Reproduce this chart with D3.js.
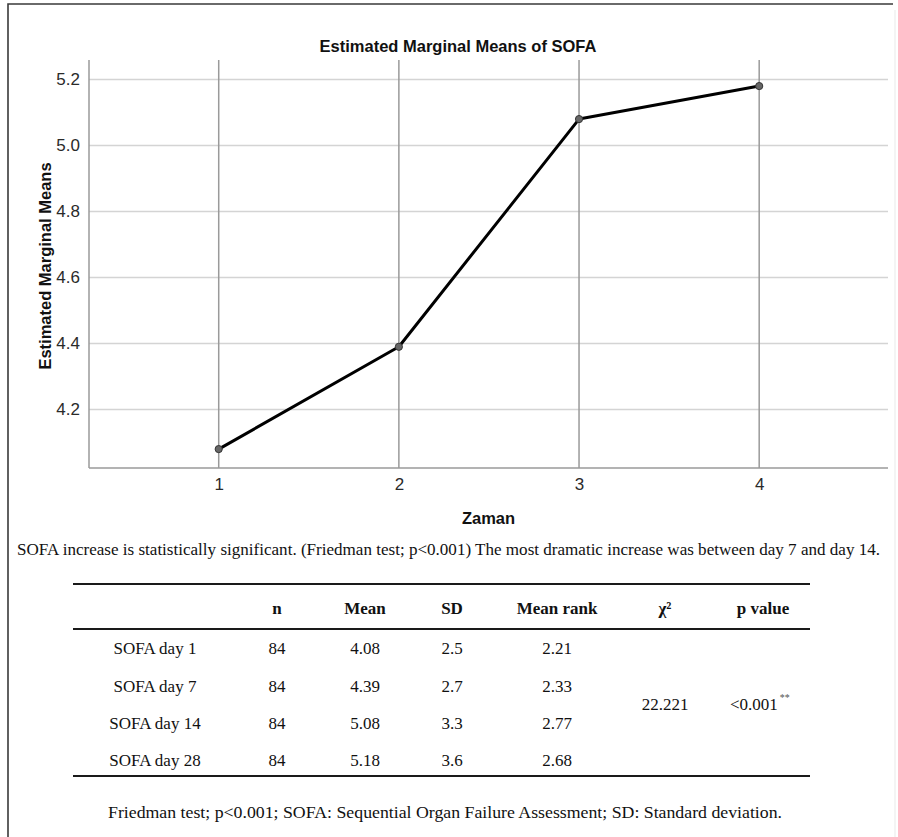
<!DOCTYPE html>
<html>
<head>
<meta charset="utf-8">
<script src="https://cdn.jsdelivr.net/npm/d3@7/dist/d3.min.js"></script>
<style>
  html, body { margin: 0; padding: 0; background: #fff; }
  svg { display: block; }
</style>
</head>
<body>
<svg id="chart" width="898" height="837"></svg>
<script>
(function(){
'use strict';
/* globals d3 */

// chart data
var timePoints = [1, 2, 3, 4];
var sofaMeans = [4.08, 4.39, 5.08, 5.18];
var yTicks = [4.2, 4.4, 4.6, 4.8, 5.0, 5.2];

// table data
var tableHeaders = ['', 'n', 'Mean', 'SD', 'Mean rank', 'χ²', 'p value'];
var rowLabels = ['SOFA day 1', 'SOFA day 7', 'SOFA day 14', 'SOFA day 28'];
var nValues = [84, 84, 84, 84];
var sdValues = [2.5, 2.7, 3.3, 3.6];
var meanRanks = [2.21, 2.33, 2.77, 2.68];
var chiSquare = '22.221';
var pValue = '<0.001';

var captionText = 'SOFA increase is statistically significant. (Friedman test; p<0.001) ' +
    'The most dramatic increase was between day 7 and day 14.';
var footerText = 'Friedman test; p<0.001; SOFA: Sequential Organ Failure Assessment; ' +
    'SD: Standard deviation.';

var SANS = 'Liberation Sans, Arial, sans-serif';
var SERIF = 'Liberation Serif, Times New Roman, serif';

var svg = d3.select('#chart');

// outer frame (left + top edges only, like the cropped figure)
svg.append('path')
    .attr('d', 'M8,837 L8,4 L893,4')
    .attr('fill', 'none')
    .attr('stroke', '#3a3a3a')
    .attr('stroke-width', 1.6);
svg.append('line')
    .attr('x1', 895).attr('x2', 895).attr('y1', 10).attr('y2', 837)
    .attr('stroke', '#f0f0f0').attr('stroke-width', 1.5);

// ---- plot area ----
var plot = {left: 89, right: 888, top: 60, bottom: 468};

var x = d3.scaleLinear()
    .domain([0.28, 4.715])
    .range([plot.left, plot.right]);

var y = d3.scaleLinear()
    .domain([4.0227, 5.259])
    .range([plot.bottom, plot.top]);

// horizontal gridlines
svg.append('g')
    .selectAll('line')
    .data(yTicks)
    .join('line')
    .attr('x1', plot.left).attr('x2', plot.right)
    .attr('y1', function(d){ return y(d); })
    .attr('y2', function(d){ return y(d); })
    .attr('stroke', '#d4d4d4')
    .attr('stroke-width', 1.5);

// vertical reference lines at each time point
svg.append('g')
    .selectAll('line')
    .data(timePoints)
    .join('line')
    .attr('x1', function(d){ return x(d); })
    .attr('x2', function(d){ return x(d); })
    .attr('y1', plot.top).attr('y2', plot.bottom)
    .attr('stroke', '#9a9a9a')
    .attr('stroke-width', 1.5);

// axes
var yAxis = svg.append('g')
    .attr('transform', 'translate(' + plot.left + ',0)')
    .call(d3.axisLeft(y).tickValues(yTicks).tickFormat(d3.format('.1f'))
        .tickSize(0).tickPadding(9));
var xAxis = svg.append('g')
    .attr('transform', 'translate(0,' + plot.bottom + ')')
    .call(d3.axisBottom(x).tickValues(timePoints).tickFormat(d3.format('d'))
        .tickSize(0).tickPadding(10));

[yAxis, xAxis].forEach(function(ax){
    ax.attr('font-size', null).attr('font-family', null);
    ax.select('.domain')
        .attr('stroke', '#9a9a9a')
        .attr('stroke-width', 1.5);
    ax.selectAll('text')
        .style('font-family', SANS)
        .style('font-size', '17px')
        .attr('fill', '#2a2a2a');
});
// the y axis line runs the full plot height
yAxis.select('.domain').attr('d', 'M0,' + plot.top + 'V' + plot.bottom);
xAxis.select('.domain').attr('d', 'M' + plot.left + ',0H' + plot.right);

// mean line
var line = d3.line()
    .x(function(d, i){ return x(timePoints[i]); })
    .y(function(d){ return y(d); });

svg.append('path')
    .datum(sofaMeans)
    .attr('d', line)
    .attr('fill', 'none')
    .attr('stroke', '#000')
    .attr('stroke-width', 3)
    .attr('stroke-linejoin', 'round');

svg.append('g')
    .selectAll('circle')
    .data(sofaMeans)
    .join('circle')
    .attr('cx', function(d, i){ return x(timePoints[i]); })
    .attr('cy', function(d){ return y(d); })
    .attr('r', 3.6)
    .attr('fill', '#666')
    .attr('stroke', '#333')
    .attr('stroke-width', 1);

// titles
svg.append('text')
    .attr('x', 458).attr('y', 52)
    .attr('text-anchor', 'middle')
    .attr('font-family', SANS)
    .attr('font-size', 16.5)
    .attr('font-weight', 'bold')
    .attr('fill', '#111')
    .text('Estimated Marginal Means of SOFA');

svg.append('text')
    .attr('transform', 'translate(51,266) rotate(-90)')
    .attr('text-anchor', 'middle')
    .attr('font-family', SANS)
    .attr('font-size', 16.5)
    .attr('font-weight', 'bold')
    .attr('fill', '#111')
    .text('Estimated Marginal Means');

svg.append('text')
    .attr('x', (plot.left + plot.right) / 2).attr('y', 524)
    .attr('text-anchor', 'middle')
    .attr('font-family', SANS)
    .attr('font-size', 16.5)
    .attr('font-weight', 'bold')
    .attr('fill', '#111')
    .text('Zaman');

// caption below the chart
svg.append('text')
    .attr('x', 17).attr('y', 555)
    .attr('font-family', SERIF)
    .attr('font-size', 17)
    .attr('fill', '#111')
    .attr('textLength', 863)
    .attr('lengthAdjust', 'spacingAndGlyphs')
    .text(captionText);

// ---- table ----
var colX = [155, 277, 365, 452, 557, 665, 763];
var headerY = 608;
var rowY = [648, 686, 723, 760];
var rules = [584, 629, 776];

svg.append('g')
    .selectAll('line')
    .data(rules)
    .join('line')
    .attr('x1', 73).attr('x2', 810)
    .attr('y1', function(d){ return d; })
    .attr('y2', function(d){ return d; })
    .attr('stroke', '#1a1a1a')
    .attr('stroke-width', 2.2);

svg.append('g')
    .selectAll('text')
    .data(tableHeaders)
    .join('text')
    .attr('x', function(d, i){ return colX[i]; })
    .attr('y', headerY)
    .attr('dy', '0.35em')
    .attr('text-anchor', 'middle')
    .attr('font-family', SERIF)
    .attr('font-size', 17)
    .attr('font-weight', 'bold')
    .attr('fill', '#111')
    .text(function(d){ return d; });

var rows = rowLabels.map(function(label, i){
    return [label, nValues[i], sofaMeans[i].toFixed(2), sdValues[i].toFixed(1),
        meanRanks[i].toFixed(2)];
});

svg.append('g')
    .selectAll('g')
    .data(rows)
    .join('g')
    .each(function(row, r){
        d3.select(this).selectAll('text')
            .data(row)
            .join('text')
            .attr('x', function(d, i){ return colX[i]; })
            .attr('y', rowY[r])
            .attr('dy', '0.35em')
            .attr('text-anchor', 'middle')
            .attr('font-family', SERIF)
            .attr('font-size', 17)
            .attr('fill', '#111')
            .text(function(d){ return d; });
    });

// merged cells: chi-square and p value
var mergedY = (rowY[0] + rowY[3]) / 2;
svg.append('text')
    .attr('x', colX[5]).attr('y', mergedY)
    .attr('dy', '0.35em')
    .attr('text-anchor', 'middle')
    .attr('font-family', SERIF)
    .attr('font-size', 17)
    .attr('fill', '#111')
    .text(chiSquare);

var pText = svg.append('text')
    .attr('x', 730).attr('y', mergedY)
    .attr('dy', '0.35em')
    .attr('font-family', SERIF)
    .attr('font-size', 17)
    .attr('fill', '#111');
pText.append('tspan').text(pValue);
pText.append('tspan')
    .attr('font-size', 10)
    .attr('dy', '-0.9em')
    .attr('dx', 2)
    .attr('fill', '#555')
    .text('**');

// footnote
svg.append('text')
    .attr('x', 108).attr('y', 818)
    .attr('font-family', SERIF)
    .attr('font-size', 17)
    .attr('fill', '#111')
    .attr('textLength', 674)
    .attr('lengthAdjust', 'spacingAndGlyphs')
    .text(footerText);

})();
</script>
</body>
</html>
